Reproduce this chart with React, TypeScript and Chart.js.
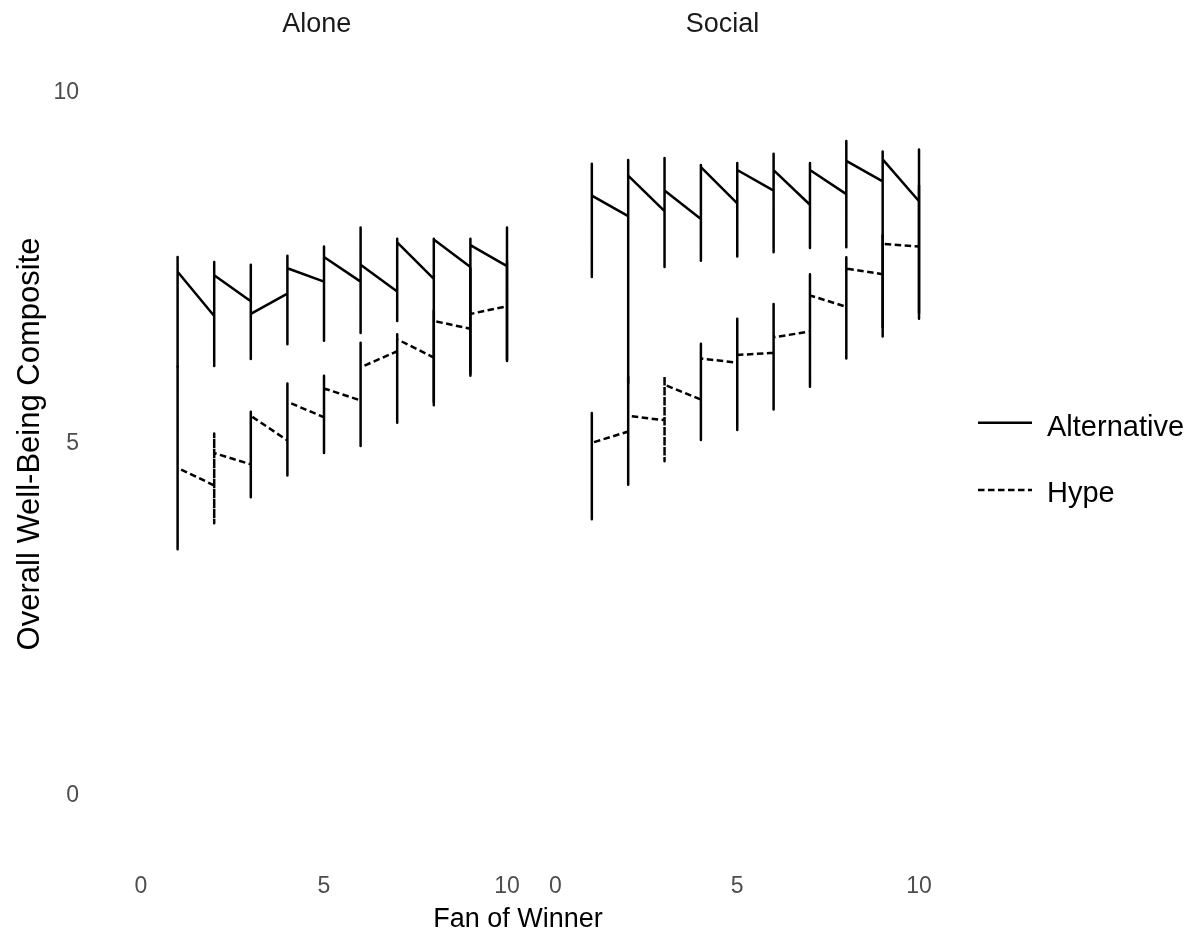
import React, { useEffect, useRef } from "react";
import { Chart, registerables } from "chart.js";

Chart.register(...registerables);

const FONT = "'Liberation Sans', Arial, Helvetica, sans-serif";

// Fan-of-winner scores on the x axis
const FAN_SCORES = [1, 2, 3, 4, 5, 6, 7, 8, 9, 10];
const X_TICKS = [0, 5, 10];
const Y_TICKS = [0, 5, 10];
const PANELS = ["Alone", "Social"];
const SERIES = ["Alternative", "Hype"];

// Each score has a vertical run of values: the path arrives at `enter`,
// sweeps lo..hi, and leaves toward the next score from `exit`.

// Alone — Alternative
const ALONE_ALT_ENTER = [7.45, 6.82, 7.03, 7.14, 7.31, 7.31, 7.17, 7.35, 7.52, 7.53];
const ALONE_ALT_LO = [6.1, 6.11, 6.21, 6.42, 6.47, 6.58, 6.75, 5.55, 5.97, 6.18];
const ALONE_ALT_HI = [7.66, 7.59, 7.55, 7.68, 7.81, 8.08, 7.92, 7.92, 7.92, 8.08];
const ALONE_ALT_EXIT = [7.45, 7.4, 6.85, 7.5, 7.66, 7.55, 7.87, 7.91, 7.83, 7.53];

// Alone — Hype
const ALONE_HYPE_ENTER = [4.66, 4.41, 4.71, 5.05, 5.38, 5.62, 6.32, 6.23, 6.64, 6.96];
const ALONE_HYPE_LO = [3.5, 3.87, 4.24, 4.55, 4.87, 4.97, 5.3, 5.6, 6.0, 6.2];
const ALONE_HYPE_HI = [6.1, 5.15, 5.46, 5.86, 5.97, 6.44, 6.56, 6.9, 7.5, 7.6];
const ALONE_HYPE_EXIT = [4.66, 4.87, 5.4, 5.6, 5.79, 6.09, 6.49, 6.75, 6.85, 6.96];

// Social — Alternative
const SOCIAL_ALT_ENTER = [8.46, 8.17, 8.24, 8.13, 8.35, 8.53, 8.33, 8.48, 8.66, 8.38];
const SOCIAL_ALT_LO = [7.31, 5.81, 7.45, 7.54, 7.6, 7.66, 7.72, 7.73, 6.47, 6.72];
const SOCIAL_ALT_HI = [8.91, 8.96, 8.99, 8.89, 8.92, 9.05, 8.92, 9.23, 9.08, 9.11];
const SOCIAL_ALT_EXIT = [8.46, 8.74, 8.53, 8.86, 8.82, 8.82, 8.82, 8.95, 8.97, 8.38];

// Social — Hype
const SOCIAL_HYPE_ENTER = [4.97, 5.13, 5.29, 5.58, 6.1, 6.24, 6.54, 6.89, 7.35, 7.74];
const SOCIAL_HYPE_LO = [3.89, 4.38, 4.71, 5.01, 5.15, 5.44, 5.76, 6.16, 6.6, 6.8];
const SOCIAL_HYPE_HI = [5.39, 5.9, 5.91, 6.37, 6.72, 6.93, 7.35, 7.59, 7.9, 8.6];
const SOCIAL_HYPE_EXIT = [4.97, 5.35, 5.79, 6.16, 6.21, 6.46, 7.05, 7.43, 7.78, 7.74];

// Number of up/down sweeps the line makes through each vertical run
const SWEEPS = 3;

const HYPE_DASH = [6.5, 3.5];
const LINE_WIDTH = 2.5;

function buildPath(enter: number[], lo: number[], hi: number[], exit: number[]) {
  const pts: { x: number; y: number }[] = [];
  FAN_SCORES.forEach((x, i) => {
    pts.push({ x, y: enter[i] });
    for (let k = 0; k < SWEEPS; k++) {
      pts.push({ x, y: lo[i] });
      pts.push({ x, y: hi[i] });
    }
    pts.push({ x, y: exit[i] });
  });
  return pts;
}

type PanelSpec = {
  alt: { x: number; y: number }[];
  hype: { x: number; y: number }[];
  padLeft: number;
  padRight: number;
  showY: boolean;
};

const W = 1191;
const H = 930;

function makeConfig(spec: PanelSpec): any {
  return {
    type: "line",
    data: {
      datasets: [
        {
          label: SERIES[0],
          data: spec.alt,
          borderColor: "#000000",
          borderWidth: LINE_WIDTH,
          borderDash: [],
          borderJoinStyle: "round",
          pointRadius: 0,
          tension: 0,
          fill: false,
        },
        {
          label: SERIES[1],
          data: spec.hype,
          borderColor: "#000000",
          borderWidth: LINE_WIDTH,
          borderDash: HYPE_DASH,
          borderJoinStyle: "round",
          pointRadius: 0,
          tension: 0,
          fill: false,
        },
      ],
    },
    options: {
      responsive: false,
      animation: false,
      devicePixelRatio: 1,
      layout: { padding: { left: spec.padLeft, right: spec.padRight, top: 51, bottom: 0 } },
      plugins: {
        legend: { display: false },
        tooltip: { enabled: false },
        title: { display: false },
      },
      scales: {
        x: {
          type: "linear",
          min: -0.5,
          max: 10.5,
          grid: { display: false, drawTicks: false },
          border: { display: false },
          afterBuildTicks: (s: any) => {
            s.ticks = X_TICKS.map((v) => ({ value: v }));
          },
          afterFit: (s: any) => {
            s.height = 99.6;
          },
          ticks: {
            padding: 42.2,
            color: "#4d4d4d",
            font: { family: FONT, size: 23 },
            maxRotation: 0,
            minRotation: 0,
            autoSkip: false,
          },
        },
        y: {
          type: "linear",
          min: -0.5,
          max: 10.5,
          display: spec.showY,
          grid: { display: false, drawTicks: false },
          border: { display: false },
          afterBuildTicks: (s: any) => {
            s.ticks = Y_TICKS.map((v) => ({ value: v }));
          },
          afterFit: (s: any) => {
            s.width = spec.showY ? 122.7 : 0;
          },
          ticks: {
            padding: 43.7,
            color: "#4d4d4d",
            font: { family: FONT, size: 23 },
          },
          title: {
            display: spec.showY,
            text: "Overall Well-Being Composite",
            color: "#000000",
            font: { family: FONT, size: 31 },
            padding: { top: 11.4, bottom: 0 },
          },
        },
      },
    },
  };
}

function PanelChart({ spec }: { spec: PanelSpec }) {
  const ref = useRef<HTMLCanvasElement | null>(null);
  useEffect(() => {
    if (!ref.current) return;
    const chart = new Chart(ref.current, makeConfig(spec));
    return () => chart.destroy();
  }, [spec]);
  return (
    <canvas
      ref={ref}
      width={W}
      height={H}
      style={{ position: "absolute", left: 0, top: 0, width: W, height: H }}
    />
  );
}

const LEFT_PANEL: PanelSpec = {
  alt: buildPath(ALONE_ALT_ENTER, ALONE_ALT_LO, ALONE_ALT_HI, ALONE_ALT_EXIT),
  hype: buildPath(ALONE_HYPE_ENTER, ALONE_HYPE_LO, ALONE_HYPE_HI, ALONE_HYPE_EXIT),
  padLeft: 0,
  padRight: W - 525.3,
  showY: true,
};

const RIGHT_PANEL: PanelSpec = {
  alt: buildPath(SOCIAL_ALT_ENTER, SOCIAL_ALT_LO, SOCIAL_ALT_HI, SOCIAL_ALT_EXIT),
  hype: buildPath(SOCIAL_HYPE_ENTER, SOCIAL_HYPE_LO, SOCIAL_HYPE_HI, SOCIAL_HYPE_EXIT),
  padLeft: 537.3,
  padRight: W - 937.2,
  showY: false,
};

function Label({
  text,
  cx,
  cy,
  size,
  color,
  align = "center",
}: {
  text: string;
  cx: number;
  cy: number;
  size: number;
  color: string;
  align?: "center" | "left";
}) {
  const style: React.CSSProperties = {
    position: "absolute",
    top: cy - 15,
    height: 30,
    lineHeight: "30px",
    fontFamily: FONT,
    fontSize: size,
    color,
    whiteSpace: "nowrap",
  };
  if (align === "center") {
    style.left = cx - 150;
    style.width = 300;
    style.textAlign = "center";
  } else {
    style.left = cx;
  }
  return <div style={style}>{text}</div>;
}

export default function App() {
  return (
    <div
      style={{
        position: "absolute",
        left: 0,
        top: 0,
        width: W,
        height: H,
        overflow: "hidden",
        background: "#ffffff",
      }}
    >
      <PanelChart spec={LEFT_PANEL} />
      <PanelChart spec={RIGHT_PANEL} />

      <Label text={PANELS[0]} cx={316.7} cy={22.8} size={27} color="#1a1a1a" />
      <Label text={PANELS[1]} cx={722.5} cy={22.8} size={27} color="#1a1a1a" />
      <Label text="Fan of Winner" cx={518} cy={918} size={27} color="#000000" />

      <svg
        width={W}
        height={H}
        style={{ position: "absolute", left: 0, top: 0, pointerEvents: "none" }}
      >
        <line x1={978} y1={422.7} x2={1032} y2={422.7} stroke="#000" strokeWidth={LINE_WIDTH} />
        <line
          x1={978}
          y1={490}
          x2={1032}
          y2={490}
          stroke="#000"
          strokeWidth={LINE_WIDTH}
          strokeDasharray={HYPE_DASH.join(" ")}
        />
      </svg>
      <Label text={SERIES[0]} cx={1047} cy={426} size={29} color="#000000" align="left" />
      <Label text={SERIES[1]} cx={1047} cy={491.7} size={29} color="#000000" align="left" />
    </div>
  );
}
